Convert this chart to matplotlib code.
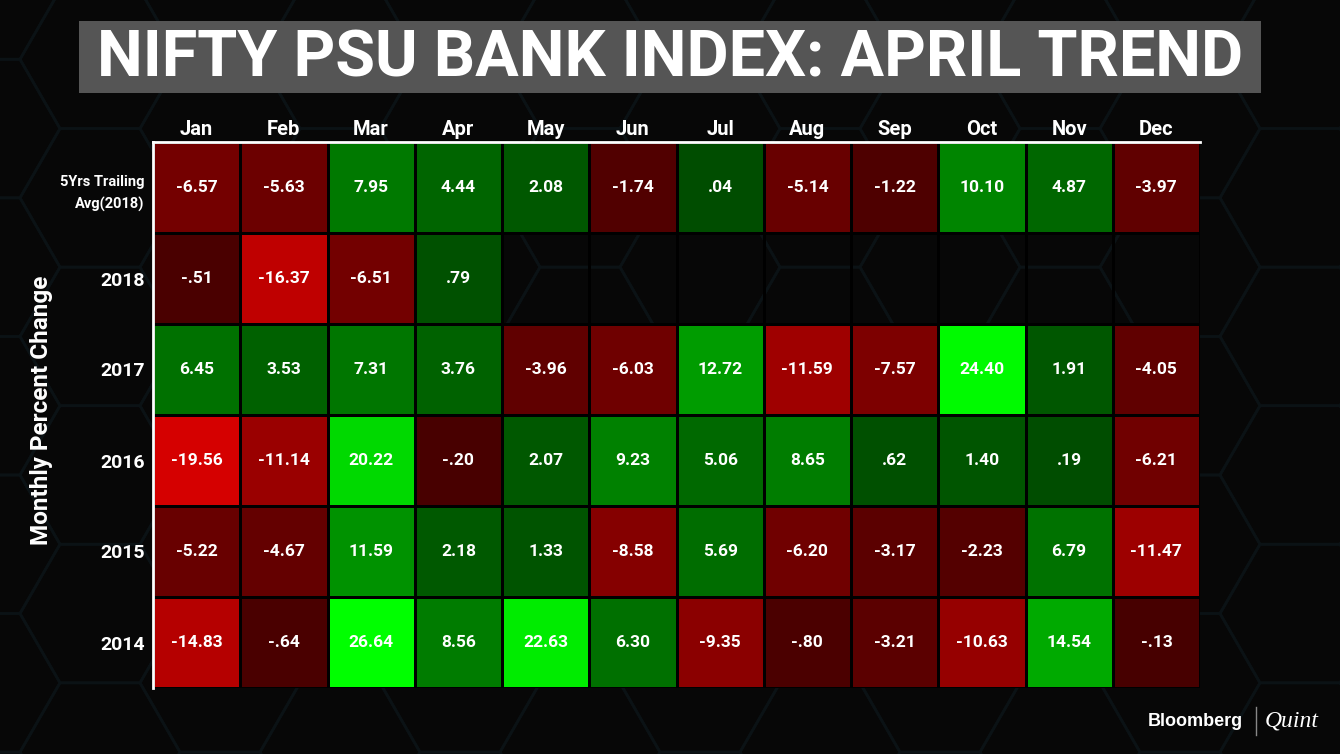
import numpy as np
import matplotlib
matplotlib.use("Agg")
import matplotlib.pyplot as plt
from matplotlib.colors import LinearSegmentedColormap, TwoSlopeNorm
from matplotlib.patches import Rectangle, RegularPolygon

# ---------------- data ----------------
months = ["Jan", "Feb", "Mar", "Apr", "May", "Jun", "Jul", "Aug", "Sep", "Oct", "Nov", "Dec"]
row_labels = ["5Yrs Trailing\nAvg(2018)", "2018", "2017", "2016", "2015", "2014"]
avg_5yr = [-6.57, -5.63, 7.95, 4.44, 2.08, -1.74, 0.04, -5.14, -1.22, 10.10, 4.87, -3.97]
y2018 = [-0.51, -16.37, -6.51, 0.79, None, None, None, None, None, None, None, None]
y2017 = [6.45, 3.53, 7.31, 3.76, -3.96, -6.03, 12.72, -11.59, -7.57, 24.40, 1.91, -4.05]
y2016 = [-19.56, -11.14, 20.22, -0.20, 2.07, 9.23, 5.06, 8.65, 0.62, 1.40, 0.19, -6.21]
y2015 = [-5.22, -4.67, 11.59, 2.18, 1.33, -8.58, 5.69, -6.20, -3.17, -2.23, 6.79, -11.47]
y2014 = [-14.83, -0.64, 26.64, 8.56, 22.63, 6.30, -9.35, -0.80, -3.21, -10.63, 14.54, -0.13]
title = "NIFTY PSU BANK INDEX: APRIL TREND"
ylabel = "Monthly Percent Change"

rows = [avg_5yr, y2018, y2017, y2016, y2015, y2014]
data = np.array([[np.nan if v is None else v for v in r] for r in rows], dtype=float)
masked = np.ma.masked_invalid(data)

plt.rcParams["font.family"] = ["Roboto", "DejaVu Sans"]

W, H = 1340, 754
fig = plt.figure(figsize=(W / 100, H / 100), dpi=100)
fig.patch.set_facecolor("#070707")

# ---------------- background ----------------
bg = fig.add_axes([0, 0, 1, 1], zorder=0)
bg.set_xlim(0, W)
bg.set_ylim(H, 0)
bg.axis("off")
R = 80
dx = 1.5 * R
dy = np.sqrt(3) * R
for i in range(-1, int(W / dx) + 2):
    for j in range(-1, int(H / dy) + 2):
        cx = i * dx - 20
        cy = j * dy + (dy / 2 if i % 2 else 0) - 10
        bg.add_patch(RegularPolygon((cx, cy), 6, radius=R, orientation=np.pi / 2,
                                    facecolor="none", edgecolor="#0b1215", lw=2))

bg.add_patch(Rectangle((79, 21), 1182, 72, facecolor="#555555", edgecolor="none"))
bg.text(670, 59, title, color="white", fontsize=46.6, fontweight="bold",
        ha="center", va="center")

bg.text(42, 410, ylabel, color="white", fontsize=17.5, fontweight="bold",
        rotation=90, ha="center", va="center")

# logo
bg.text(1243, 721, "Bloomberg", color="white", fontsize=13, fontweight="bold",
        family="Liberation Sans", ha="right", va="center")
bg.plot([1256, 1256], [707, 735], color="#888888", lw=1)
bg.text(1265, 721, "Quint", color="white", fontsize=17, style="italic",
        family="Liberation Serif", ha="left", va="center")

# ---------------- heatmap ----------------
ax = fig.add_axes([153 / W, 1 - 688 / H, (1200 - 153) / W, (688 - 142) / H], zorder=1)
ax.patch.set_alpha(0)

cdict = {
    "red":   [(0.0, 0.87, 0.87), (0.2143, 0.635, 0.635), (0.381, 0.40, 0.40),
              (0.5, 0.275, 0.0), (1.0, 0.0, 0.0)],
    "green": [(0.0, 0.0, 0.0), (0.5, 0.0, 0.30), (0.7, 0.52, 0.52), (1.0, 1.0, 1.0)],
    "blue":  [(0.0, 0.0, 0.0), (1.0, 0.0, 0.0)],
}
cmap = LinearSegmentedColormap("rg", cdict)
norm = TwoSlopeNorm(vmin=-21, vcenter=0, vmax=25)

ax.pcolormesh(np.arange(len(months) + 1), np.arange(len(row_labels) + 1), masked,
              cmap=cmap, norm=norm, edgecolors="black", linewidth=1)
ax.set_xlim(0, len(months))
ax.set_ylim(len(row_labels), 0)


def fmt(v):
    s = f"{v:.2f}"
    if s.startswith("0."):
        s = s[1:]
    elif s.startswith("-0."):
        s = "-" + s[2:]
    return s


for r in range(data.shape[0]):
    for c in range(data.shape[1]):
        v = data[r, c]
        if np.isnan(v):
            continue
        ax.text(c + 0.5, r + 0.5, fmt(v), color="white", fontsize=12.5,
                fontweight="bold", ha="center", va="center")

ax.xaxis.tick_top()
ax.set_xticks(np.arange(len(months)) + 0.5)
ax.set_xticklabels(months, color="white", fontsize=14.5, fontweight="bold")
ax.set_yticks(np.arange(len(row_labels)) + 0.5)
ax.set_yticklabels(row_labels, color="white", fontsize=14, fontweight="bold")
for lbl in ax.get_yticklabels():
    if "\n" in lbl.get_text():
        lbl.set_fontsize(10.5)
        lbl.set_linespacing(1.7)
ax.tick_params(axis="x", length=0, pad=2.5)
ax.tick_params(axis="y", length=0, pad=6)
for s in ["bottom", "right"]:
    ax.spines[s].set_visible(False)
for s in ["left", "top"]:
    ax.spines[s].set_color("white")
    ax.spines[s].set_linewidth(2)

fig.savefig("out.png", dpi=100, facecolor=fig.get_facecolor())
